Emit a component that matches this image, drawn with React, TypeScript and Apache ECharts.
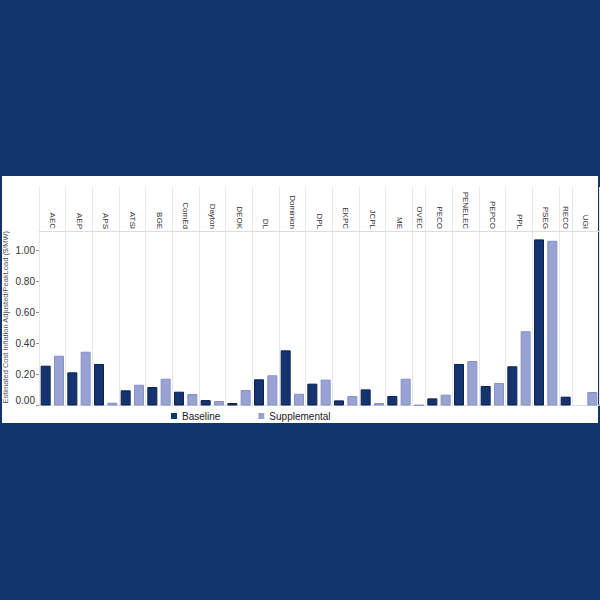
import React, { useEffect, useRef } from "react";
import * as echarts from "echarts";

const categories = ["AEC", "AEP", "APS", "ATSI", "BGE", "ComEd", "Dayton", "DEOK", "DL", "Dominion", "DPL", "EKPC", "JCPL", "ME", "OVEC", "PECO", "PENELEC", "PEPCO", "PPL", "PSEG", "RECO", "UGI"];
const baseline: (number | null)[] = [0.257, 0.214, 0.268, 0.098, 0.119, 0.089, 0.035, 0.016, 0.169, 0.356, 0.141, 0.033, 0.104, 0.061, null, 0.046, 0.268, 0.126, 0.253, 1.072, 0.057, 0];
const supplemental: (number | null)[] = [0.321, 0.347, 0.018, 0.134, 0.173, 0.074, 0.029, 0.1, 0.195, 0.076, 0.167, 0.061, 0.016, 0.173, 0.003, 0.07, 0.287, 0.145, 0.479, 1.063, null, 0.087];
const yTicks = [0, 0.2, 0.4, 0.6, 0.8, 1.0];

const FONT = "'Liberation Sans', Arial, sans-serif";

export default function App() {
  const ref = useRef<HTMLDivElement>(null);
  useEffect(() => {
    if (!ref.current) return;
    const chart = echarts.init(ref.current, undefined, { renderer: "svg" });

    const slotKeys: string[] = [];
    const baseData: (number | string)[] = [];
    const suppData: (number | string)[] = [];
    const halfLabels: string[] = [];
    const boundaries = new Set<number>();
    const cell = (v: number) => (v === 0 ? "-" : v);
    let pos = 0;
    categories.forEach((c, i) => {
      let n = 0;
      const b = baseline[i];
      const s = supplemental[i];
      if (b != null) {
        slotKeys.push(c + "-B");
        baseData.push(cell(b));
        suppData.push("-");
        n++;
      }
      if (s != null) {
        slotKeys.push(c + "-S");
        baseData.push("-");
        suppData.push(cell(s));
        n++;
      }
      boundaries.add(2 * pos);
      halfLabels[2 * pos + n] = c;
      pos += n;
    });
    boundaries.add(2 * pos);
    const halfKeys: string[] = [];
    for (let k = 0; k <= 2 * pos; k++) {
      halfKeys.push("h" + k);
      if (halfLabels[k] === undefined) halfLabels[k] = "";
    }

    chart.setOption({
      animation: false,
      backgroundColor: "#12346c",
      graphic: [
        {
          type: "rect",
          z: -10,
          silent: true,
          shape: { x: 2, y: 176, width: 596, height: 247 },
          style: { fill: "#ffffff" },
        },
      ],
      textStyle: { fontFamily: FONT },
      legend: {
        left: 166,
        top: 406,
        icon: "rect",
        itemWidth: 6,
        itemHeight: 6,
        itemGap: 38,
        textStyle: { fontSize: 10, color: "#222", fontFamily: FONT },
        itemStyle: { borderWidth: 0 },
        data: ["Baseline", "Supplemental"],
      },
      grid: { left: 39, right: 1, top: 187, bottom: 194.5, containLabel: false, outerBoundsMode: "none" },
      xAxis: [
        {
          type: "category",
          data: slotKeys,
          boundaryGap: true,
          axisLabel: { show: false },
          axisTick: { show: false },
          axisLine: { show: true, lineStyle: { color: "#dcdcdc", width: 1 } },
          splitLine: { show: false },
        },
        {
          type: "category",
          data: halfKeys,
          position: "top",
          offset: -44,
          boundaryGap: false,
          axisLine: { show: true, lineStyle: { color: "#dcdcdc", width: 1 } },
          axisTick: { show: false },
          axisLabel: {
            interval: 0,
            rotate: 90,
            margin: 2,
            fontSize: 8,
            color: "#333",
            fontFamily: FONT,
            formatter: (_v: string, idx: number) => halfLabels[idx] || "",
          },
          splitLine: {
            show: true,
            interval: (idx: number) => boundaries.has(idx),
            lineStyle: { color: "#e8e8e8", width: 1 },
          },
        },
      ],
      yAxis: {
        type: "value",
        min: 0,
        max: 1.41,
        interval: 0.2,
        name: "Estimated Cost Inflation Adjusted/PeakLoad ($/MW)",
        nameLocation: "middle",
        nameGap: 30,
        nameMoveOverlap: false,
        nameTextStyle: { fontSize: 7.5, color: "#555", fontFamily: FONT, padding: [0, 42, 0, 0] },
        axisLine: { show: false },
        axisTick: { show: true, length: 3, customValues: yTicks, lineStyle: { color: "#999" } },
        splitLine: { show: false },
        axisLabel: {
          customValues: yTicks,
          margin: 4,
          fontSize: 10,
          color: "#333",
          fontFamily: FONT,
          formatter: (v: number) => (v === 0 ? "{z|0.00}" : v.toFixed(2)),
          rich: { z: { fontSize: 10, color: "#333", fontFamily: FONT, padding: [0, 0, 10, 0] } },
        },
      },
      series: [
        {
          name: "Baseline",
          type: "bar",
          xAxisIndex: 0,
          data: baseData,
          barWidth: 10,
          barGap: "-100%",
          itemStyle: { color: "#14346f", borderColor: "#0a2152", borderWidth: 1 },
        },
        {
          name: "Supplemental",
          type: "bar",
          xAxisIndex: 0,
          data: suppData,
          barWidth: 10,
          barGap: "-100%",
          itemStyle: { color: "#99a3d3", borderColor: "#8590c6", borderWidth: 1 },
        },
      ],
    });
    return () => chart.dispose();
  }, []);
  return (
    <div style={{ position: "absolute", left: 0, top: 0, width: 600, height: 600 }}>
      <div ref={ref} style={{ width: 600, height: 600 }} />
    </div>
  );
}
